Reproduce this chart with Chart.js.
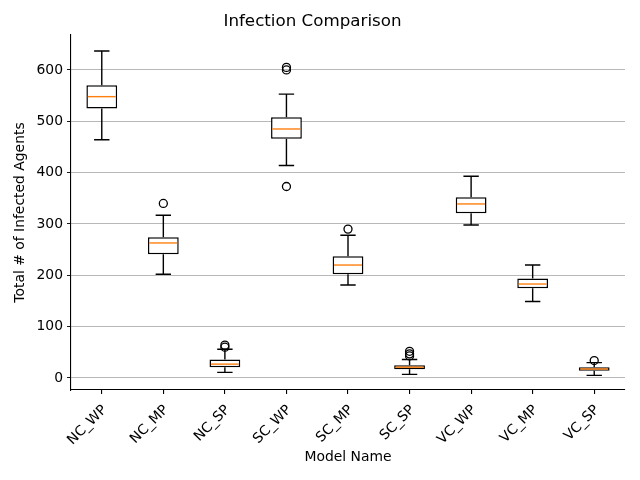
<!DOCTYPE html>
<html>
<head>
<meta charset="utf-8">
<title>Infection Comparison</title>
<script src="https://cdn.jsdelivr.net/npm/chart.js@4.4.0/dist/chart.umd.min.js"></script>
<style>
  body { margin: 0; background: #fff; }
</style>
</head>
<body>
<canvas id="myChart" width="640" height="480"></canvas>
<script>
// box plot values
var labels = ['NC_WP', 'NC_MP', 'NC_SP', 'SC_WP', 'SC_MP', 'SC_SP', 'VC_WP', 'VC_MP', 'VC_SP'];
var whiskerLow = [464, 202, 11, 414, 181, 7, 298, 149, 5];
var q1 = [525, 241, 21, 466, 202, 17, 321, 175, 14];
var medians = [548, 263, 27, 485, 220, 21, 339, 183, 17.5];
var q3 = [570, 274, 36, 508, 237, 25, 352, 194, 21];
var whiskerHigh = [637, 317, 56, 553, 278, 36, 393, 220, 30];
var outlierCats = ['NC_MP', 'NC_SP', 'NC_SP', 'SC_WP', 'SC_WP', 'SC_WP', 'SC_MP', 'SC_SP', 'SC_SP', 'SC_SP', 'VC_SP'];
var outlierValues = [340, 64, 60, 605, 600, 373, 290, 52, 47, 43, 34];
var yTicks = [0, 100, 200, 300, 400, 500, 600];

Chart.defaults.font.family = "'DejaVu Sans', sans-serif";
Chart.defaults.color = '#000';

var boxes = labels.map(function(l, i) { return [q1[i], q3[i]]; });
var outliers = outlierCats.map(function(c, i) { return {x: c, y: outlierValues[i]}; });

// whiskers, caps and medians drawn on top of the floating bars
var boxExtras = {
    id: 'boxExtras',
    afterDatasetsDraw: function(chart) {
        var ctx = chart.ctx;
        var y = chart.scales.y;
        var bars = chart.getDatasetMeta(0).data;
        ctx.save();
        bars.forEach(function(bar, i) {
            var x = bar.x;
            var half = bar.width / 2;
            var cap = half / 2;
            ctx.strokeStyle = '#000';
            ctx.lineWidth = 1.4;
            ctx.beginPath();
            var yHi = y.getPixelForValue(whiskerHigh[i]);
            var yQ3 = y.getPixelForValue(q3[i]);
            var yLo = y.getPixelForValue(whiskerLow[i]);
            var yQ1 = y.getPixelForValue(q1[i]);
            ctx.moveTo(x, yQ3); ctx.lineTo(x, yHi);
            ctx.moveTo(x - cap, yHi); ctx.lineTo(x + cap, yHi);
            ctx.moveTo(x, yQ1); ctx.lineTo(x, yLo);
            ctx.moveTo(x - cap, yLo); ctx.lineTo(x + cap, yLo);
            ctx.stroke();
            var yMed = y.getPixelForValue(medians[i]);
            ctx.strokeStyle = '#ff7f0e';
            ctx.beginPath();
            ctx.moveTo(x - half + 1.4, yMed); ctx.lineTo(x + half - 1.4, yMed);
            ctx.stroke();
        });
        ctx.restore();
    }
};

var ctx = document.getElementById('myChart').getContext('2d');
var chart = new Chart(ctx, {
    type: 'bar',
    data: {
        labels: labels,
        datasets: [{
            label: 'box',
            data: boxes,
            backgroundColor: '#fff',
            borderColor: '#000',
            borderWidth: 1.5,
            borderSkipped: false,
            categoryPercentage: 1,
            barPercentage: 0.5
        }, {
            type: 'line',
            label: 'outliers',
            data: outliers,
            showLine: false,
            pointRadius: 4,
            pointBorderWidth: 1.3,
            pointBorderColor: '#000',
            pointBackgroundColor: 'rgba(0,0,0,0)'
        }]
    },
    options: {
        responsive: false,
        animation: false,
        layout: { padding: { left: 0, right: 15, top: 0, bottom: 0 } },
        plugins: {
            legend: { display: false },
            tooltip: { enabled: false },
            title: {
                display: true,
                text: 'Infection Comparison',
                color: '#000',
                font: { size: 16.7, weight: 'normal' },
                padding: { top: 12, bottom: 3 }
            }
        },
        scales: {
            x: {
                offset: true,
                grid: {
                    offset: false,
                    drawOnChartArea: false,
                    tickLength: 4,
                    tickColor: '#000',
                    lineWidth: 1.1
                },
                border: { color: '#000', width: 1.1 },
                ticks: {
                    maxRotation: 45,
                    minRotation: 45,
                    padding: 8,
                    labelOffset: 3,
                    font: { size: 13.9 }
                },
                title: {
                    display: true,
                    text: 'Model Name',
                    font: { size: 13.9 },
                    padding: { top: 4, bottom: 14 }
                },
                afterFit: function(scale) { scale.height = 90; }
            },
            y: {
                min: -23.4,
                max: 668,
                grid: {
                    color: '#b0b0b0',
                    lineWidth: 0.9,
                    tickLength: 4,
                    tickColor: '#000'
                },
                border: { color: '#000', width: 1.1 },
                ticks: {
                    stepSize: 100,
                    includeBounds: false,
                    padding: 4,
                    font: { size: 13.9 }
                },
                afterBuildTicks: function(scale) {
                    scale.ticks = yTicks.map(function(v) { return {value: v}; });
                },
                title: {
                    display: true,
                    text: 'Total # of Infected Agents',
                    font: { size: 13.9 },
                    padding: { top: 12, bottom: 0 }
                },
                afterFit: function(scale) { scale.width = 71; }
            }
        }
    },
    plugins: [boxExtras]
});
</script>
</body>
</html>
